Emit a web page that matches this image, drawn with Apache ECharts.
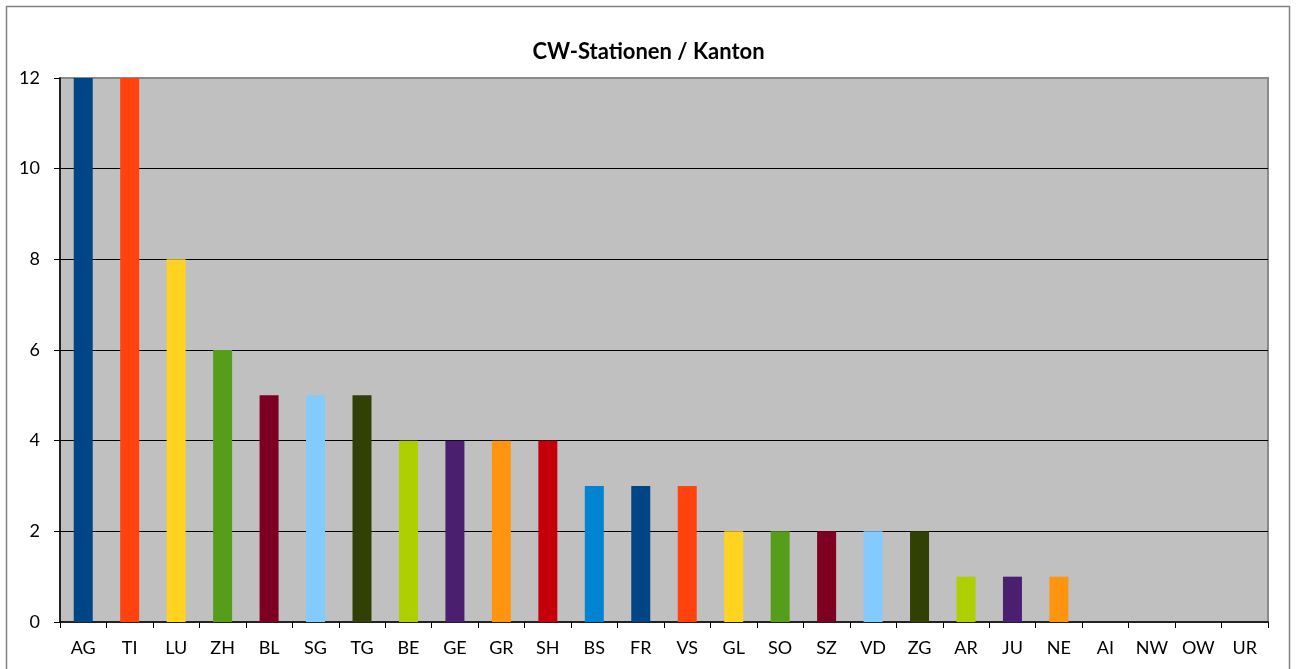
<!DOCTYPE html>
<html>
<head>
<meta charset="utf-8">
<script src="https://cdn.jsdelivr.net/npm/echarts@6/dist/echarts.min.js"></script>
<style>html,body{margin:0;padding:0;background:#fff;}#c{width:1297px;height:669px;}</style>
</head>
<body>
<div id="c"></div>
<script>
const categories = ['AG','TI','LU','ZH','BL','SG','TG','BE','GE','GR','SH','BS','FR','VS','GL','SO','SZ','VD','ZG','AR','JU','NE','AI','NW','OW','UR'];
const values = [12,12,8,6,5,5,5,4,4,4,4,3,3,3,2,2,2,2,2,1,1,1,0,0,0,0];
const palette = ['#004586','#ff420e','#ffd320','#579d1c','#7e0021','#83caff','#314004','#aecf00','#4b1f6f','#ff950e','#c5000b','#0084d1'];
const yTicks = [0,2,4,6,8,10,12];

const chart = echarts.init(document.getElementById('c'), null, {renderer:'canvas'});
const font = 'Lato, "Open Sans", sans-serif';
chart.setOption({
  animation: false,
  backgroundColor: '#ffffff',
  title: {
    text: 'CW-Stationen / Kanton',
    left: 'center', top: 36,
    textStyle: {fontFamily: font, fontSize: 22, fontWeight: 'bold', color: '#000'}
  },
  graphic: [{
    type: 'rect', shape: {x: 6.5, y: 6.5, width: 1283, height: 700},
    style: {fill: 'none', stroke: '#808080', lineWidth: 1.5}, silent: true, z: 100
  }],
  grid: {
    left: 60, right: 29, top: 78, bottom: 47,
    show: true, backgroundColor: '#c0c0c0', borderColor: '#8a8a8a', borderWidth: 2
  },
  xAxis: {
    type: 'category', data: categories,
    axisLine: {show: true, lineStyle: {color: '#000', width: 1.5}},
    axisTick: {show: true, alignWithLabel: false, length: 6, lineStyle: {color: '#000'}},
    axisLabel: {fontFamily: font, fontSize: 18, color: '#000', margin: 17, interval: 0},
    splitLine: {show: false}
  },
  yAxis: {
    type: 'value', min: yTicks[0], max: yTicks[yTicks.length-1], interval: 2,
    axisLine: {show: true, lineStyle: {color: '#000', width: 1.5}},
    axisTick: {show: true, length: 6, lineStyle: {color: '#000'}},
    axisLabel: {fontFamily: font, fontSize: 18, color: '#000', margin: 20},
    splitLine: {show: true, showMaxLine: false, showMinLine: false, lineStyle: {color: '#000', width: 1}}
  },
  series: [{
    type: 'bar',
    data: values.map((v, i) => ({value: v, itemStyle: {color: palette[i % palette.length], opacity: v === 0 ? 0 : 1}})),
    barWidth: 19
  }]
});
</script>
</body>
</html>
